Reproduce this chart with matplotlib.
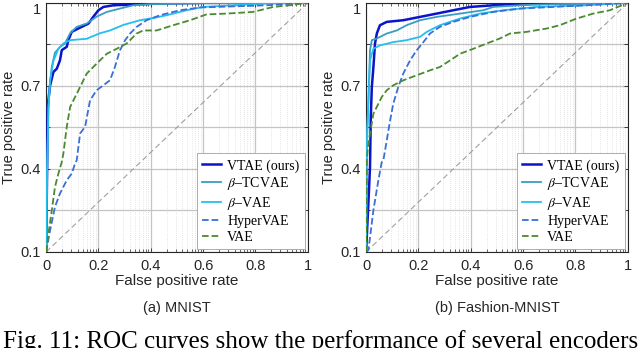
import numpy as np
import matplotlib
matplotlib.use("Agg")
import matplotlib.pyplot as plt

plt.rcParams['font.family'] = ['Liberation Sans', 'DejaVu Sans']
plt.rcParams['mathtext.fontset'] = 'stix'

# ---- MNIST curves (fpr, tpr) ----
mn_vtae_fpr = [0, 0.004, 0.006, 0.015, 0.028, 0.041, 0.053, 0.06, 0.079, 0.085, 0.098, 0.123, 0.162, 0.18, 0.2, 0.219, 0.257, 0.42, 0.6, 1]
mn_vtae_tpr = [0.1, 0.4, 0.624, 0.70, 0.75, 0.762, 0.792, 0.829, 0.841, 0.865, 0.895, 0.907, 0.925, 0.949, 0.973, 0.985, 0.991, 0.997, 1, 1]
mn_tc_fpr = [0, 0.004, 0.009, 0.015, 0.022, 0.034, 0.053, 0.072, 0.092, 0.117, 0.155, 0.193, 0.232, 0.282, 0.333, 0.397, 0.588, 1]
mn_tc_tpr = [0.1, 0.4, 0.62, 0.71, 0.77, 0.82, 0.84, 0.853, 0.89, 0.913, 0.925, 0.95, 0.967, 0.979, 0.991, 0.995, 0.998, 1]
mn_b_fpr = [0, 0.004, 0.009, 0.015, 0.028, 0.047, 0.066, 0.092, 0.155, 0.206, 0.244, 0.295, 0.359, 0.41, 0.461, 0.537, 0.6, 0.715, 0.842, 1]
mn_b_tpr = [0.1, 0.4, 0.62, 0.72, 0.79, 0.834, 0.853, 0.865, 0.87, 0.89, 0.90, 0.92, 0.937, 0.945, 0.955, 0.973, 0.985, 0.991, 0.997, 1]
mn_hyp_fpr = [0, 0.013, 0.034, 0.053, 0.079, 0.098, 0.111, 0.117, 0.13, 0.149, 0.168, 0.193, 0.219, 0.244, 0.263, 0.282, 0.302, 0.321, 0.346, 0.384, 0.435, 0.511, 0.588, 0.715, 0.842, 1]
mn_hyp_tpr = [0.1, 0.167, 0.263, 0.311, 0.359, 0.383, 0.42, 0.431, 0.528, 0.552, 0.648, 0.684, 0.702, 0.72, 0.768, 0.828, 0.865, 0.889, 0.913, 0.937, 0.955, 0.973, 0.983, 0.987, 0.991, 1]
mn_vae_fpr = [0, 0.009, 0.022, 0.034, 0.047, 0.06, 0.066, 0.079, 0.092, 0.111, 0.13, 0.155, 0.193, 0.232, 0.27, 0.308, 0.346, 0.371, 0.422, 0.486, 0.55, 0.613, 0.69, 0.791, 0.868, 0.931, 1]
mn_vae_tpr = [0.1, 0.167, 0.251, 0.335, 0.383, 0.425, 0.455, 0.552, 0.624, 0.66, 0.696, 0.744, 0.78, 0.816, 0.834, 0.853, 0.889, 0.90, 0.90, 0.919, 0.937, 0.958, 0.961, 0.967, 0.985, 0.991, 1]

# ---- Fashion-MNIST curves ----
fm_vtae_fpr = [0, 0.01, 0.015, 0.018, 0.022, 0.028, 0.034, 0.041, 0.053, 0.079, 0.142, 0.206, 0.27, 0.333, 0.397, 0.486, 0.588, 1]
fm_vtae_tpr = [0.1, 0.3, 0.407, 0.588, 0.696, 0.768, 0.852, 0.889, 0.919, 0.931, 0.937, 0.949, 0.961, 0.973, 0.985, 0.991, 0.997, 1]
fm_tc_fpr = [0, 0.003, 0.009, 0.015, 0.022, 0.041, 0.079, 0.117, 0.155, 0.206, 0.27, 0.359, 0.448, 0.486, 0.588, 0.715, 1]
fm_tc_tpr = [0.1, 0.528, 0.648, 0.828, 0.865, 0.871, 0.889, 0.90, 0.919, 0.937, 0.949, 0.961, 0.973, 0.985, 0.991, 0.995, 1]
fm_b_fpr = [0, 0.003, 0.009, 0.015, 0.028, 0.053, 0.104, 0.155, 0.206, 0.232, 0.282, 0.359, 0.435, 0.524, 0.651, 0.842, 1]
fm_b_tpr = [0.1, 0.467, 0.648, 0.792, 0.834, 0.846, 0.858, 0.865, 0.877, 0.895, 0.919, 0.943, 0.961, 0.973, 0.985, 0.991, 1]
fm_hyp_fpr = [0, 0.009, 0.028, 0.047, 0.06, 0.066, 0.079, 0.092, 0.104, 0.123, 0.142, 0.168, 0.193, 0.219, 0.244, 0.282, 0.333, 0.397, 0.486, 0.588, 0.715, 0.842, 1]
fm_hyp_tpr = [0.1, 0.107, 0.251, 0.359, 0.425, 0.431, 0.503, 0.576, 0.636, 0.696, 0.744, 0.792, 0.828, 0.858, 0.889, 0.913, 0.931, 0.949, 0.967, 0.979, 0.985, 0.991, 1]
fm_vae_fpr = [0, 0.003, 0.006, 0.013, 0.028, 0.041, 0.06, 0.079, 0.104, 0.142, 0.193, 0.244, 0.282, 0.321, 0.359, 0.41, 0.461, 0.511, 0.55, 0.613, 0.69, 0.74, 0.804, 0.868, 0.931, 1]
fm_vae_tpr = [0.1, 0.431, 0.467, 0.515, 0.60, 0.624, 0.66, 0.684, 0.702, 0.72, 0.738, 0.756, 0.768, 0.792, 0.816, 0.834, 0.853, 0.871, 0.889, 0.895, 0.907, 0.919, 0.943, 0.961, 0.973, 1]

labels = ['VTAE (ours)', r'$\beta$–TCVAE', r'$\beta$–VAE', 'HyperVAE', 'VAE']
colors = ['#0a14c8', '#3a9cc4', '#22bff0', '#3a6fd8', '#4a8a30']
styles = ['-', '-', '-', '--', '--']
widths = [1.8, 1.3, 1.3, 1.3, 1.3]
xticks = [0, 0.2, 0.4, 0.6, 0.8, 1]
xticklabels = ['0', '0.2', '0.4', '0.6', '0.8', '1']
yticks = [0.1, 0.25, 0.4, 0.55, 0.7, 0.85, 1]
yticklabels = ['0.1', '', '0.4', '', '0.7', '', '1']
subtitles = ['(a) MNIST', '(b) Fashion-MNIST']

panels = [
    [(mn_vtae_fpr, mn_vtae_tpr), (mn_tc_fpr, mn_tc_tpr), (mn_b_fpr, mn_b_tpr), (mn_hyp_fpr, mn_hyp_tpr), (mn_vae_fpr, mn_vae_tpr)],
    [(fm_vtae_fpr, fm_vtae_tpr), (fm_tc_fpr, fm_tc_tpr), (fm_b_fpr, fm_b_tpr), (fm_hyp_fpr, fm_hyp_tpr), (fm_vae_fpr, fm_vae_tpr)],
]

fig = plt.figure(figsize=(6.4, 3.48), dpi=100)
lefts = [0.072, 0.572]
minor = [0.2 * i + 0.2 * np.log10(k) for i in range(5) for k in range(2, 10)]
axcol = '#262626'

for p in range(2):
    ax = fig.add_axes([lefts[p], 0.276, 0.409, 0.716])
    # diagonal reference line
    ax.plot([0, 1], [0.1, 1], ls=(0, (5, 3)), color='#a0a0a0', lw=0.8, zorder=2)
    for (fx, ty), lab, c, s, w in zip(panels[p], labels, colors, styles, widths):
        ax.plot(fx, ty, s, color=c, lw=w, label=lab, zorder=3)
    ax.set_xlim(0, 1)
    ax.set_ylim(0.1, 1)
    ax.set_xticks(xticks)
    ax.set_xticklabels(xticklabels)
    ax.set_yticks(yticks)
    ax.set_yticklabels(yticklabels)
    ax.get_yticklabels()[-1].set_va('top')
    ax.set_xticks(minor, minor=True)
    ax.grid(True, which='major', color='#c4c4c4', lw=0.9)
    ax.grid(True, which='minor', axis='x', color='#cfcfcf', lw=0.5, ls=(0, (1, 2)))
    ax.set_axisbelow(True)
    ax.tick_params(direction='in', top=True, right=True, labelsize=10.5,
                   colors=axcol, length=3, width=0.6, pad=4)
    ax.tick_params(axis='x', pad=5)
    ax.tick_params(which='minor', direction='in', top=True, length=2, width=0.5, colors=axcol)
    for sp in ax.spines.values():
        sp.set_color(axcol)
        sp.set_linewidth(0.8)
    ax.set_xlabel('False positive rate', fontsize=11, color=axcol, labelpad=1)
    ax.set_ylabel('True positive rate', fontsize=10.5, color=axcol, labelpad=3)
    leg = ax.legend(loc='lower right', frameon=True, fancybox=False,
                    edgecolor='#a0a0a0', framealpha=1, borderaxespad=0.2,
                    labelspacing=0.2, handlelength=1.35, handletextpad=0.45,
                    borderpad=0.4, prop={'family': 'Liberation Serif', 'size': 10})
    leg.get_frame().set_linewidth(0.6)
    fig.text(lefts[p] + 0.2045, 0.115, subtitles[p], ha='center', va='center',
             fontsize=10.5, color=axcol)

fig.text(0.004, 0.0, 'Fig. 11: ROC curves show the performance of several encoders',
         ha='left', va='baseline', fontsize=18, family='Liberation Serif', color='black')

fig.savefig('out.png', dpi=100)
